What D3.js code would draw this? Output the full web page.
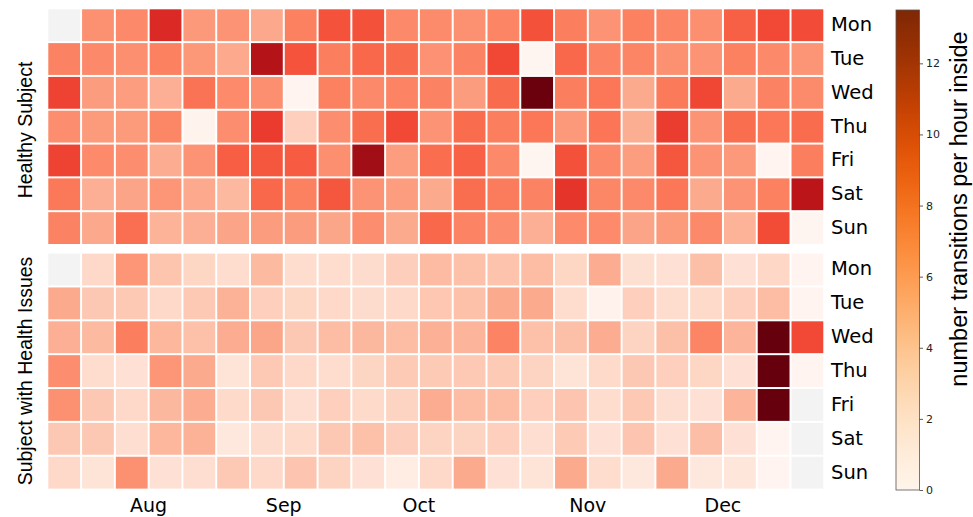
<!DOCTYPE html>
<html>
<head>
<meta charset="utf-8">
<script src="https://cdn.jsdelivr.net/npm/d3@7"></script>
<style>
  html, body { margin: 0; padding: 0; background: #fff; }
  svg { display: block; }
</style>
</head>
<body>
<script>
// ---------------- DATA ----------------
const days = ["Mon", "Tue", "Wed", "Thu", "Fri", "Sat", "Sun"];
const nWeeks = 23;
const monthLabels = ["Aug", "Sep", "Oct", "Nov", "Dec"];
const monthWeekIndex = [3, 7, 11, 16, 20];
const colorTicks = [0, 2, 4, 6, 8, 10, 12];
const colorMax = 13.5;
const subjectLabels = ["Healthy Subject", "Subject with Health Issues"];

// rows = weekday (Mon..Sun), columns = weeks; null = no data
const healthy = [
  [null, 5.1, 5.44, 9.33, 4.77, 5.02, 4.15, 5.78, 7.63, 7.67, 5.44, 5.36, 5.1, 5.61, 7.67, 5.87, 5.02, 5.78, 5.61, 5.18, 7.09, 7.96, 7.88],
  [5.7, 5.44, 5.18, 5.78, 4.86, 4.1, 11.1, 7.56, 5.87, 6.8, 6.67, 5.06, 5.74, 8.0, 0, 6.8, 5.66, 5.61, 5.1, 5.02, 5.78, 5.44, 4.94],
  [8.18, 4.64, 4.6, 3.86, 6.34, 5.4, 5.18, 0.08, 5.78, 5.44, 5.66, 5.74, 4.64, 6.67, 13.4, 5.87, 6.2, 4.06, 6.08, 8.07, 4.06, 5.7, 5.36],
  [5.22, 4.73, 4.73, 5.53, 0.16, 5.22, 8.5, 2.43, 5.27, 6.55, 7.96, 5.02, 6.63, 5.87, 6.2, 4.77, 6.25, 3.9, 8.43, 5.02, 6.55, 6.2, 6.63],
  [8.18, 5.4, 5.27, 3.94, 5.02, 7.16, 7.45, 7.23, 5.18, 11.8, 4.6, 6.59, 7.05, 5.44, 0, 7.67, 5.44, 4.6, 7.45, 5.02, 4.77, 0.08, 5.87],
  [6.12, 3.86, 4.3, 4.9, 4.1, 3.44, 6.8, 5.78, 7.45, 5.02, 4.6, 4.06, 6.55, 6.0, 5.7, 8.79, 5.53, 5.44, 6.2, 4.06, 5.02, 5.78, 10.8],
  [5.7, 4.15, 6.51, 3.69, 3.86, 4.3, 4.64, 4.64, 4.23, 5.22, 4.06, 6.8, 5.66, 5.27, 3.86, 5.4, 5.4, 4.3, 4.73, 5.44, 3.69, 7.85, 0]
];
const issues = [
  [null, 1.93, 4.9, 2.94, 2.11, 1.7, 3.4, 1.7, 1.7, 1.75, 2.48, 3.36, 3.08, 3.0, 3.27, 2.11, 3.98, 1.54, 1.46, 3.17, 1.46, 2.02, 0.08],
  [4.06, 2.76, 2.72, 1.93, 2.72, 3.73, 2.43, 2.11, 1.93, 1.75, 1.93, 2.8, 3.08, 4.06, 4.06, 1.7, 0.24, 2.43, 1.7, 1.89, 2.43, 3.27, 0.08],
  [3.86, 3.4, 5.87, 3.52, 3.08, 3.94, 4.23, 2.76, 3.27, 3.48, 3.27, 3.81, 3.6, 5.66, 3.08, 3.17, 3.98, 2.25, 3.17, 5.61, 3.6, 14, 7.96],
  [5.22, 1.7, 1.46, 4.9, 4.06, 1.3, 2.72, 1.93, 1.7, 2.16, 2.67, 2.67, 2.72, 2.67, 2.25, 1.3, 1.89, 2.76, 2.43, 2.11, 1.46, 14, 0.08],
  [5.1, 2.76, 1.93, 3.48, 3.94, 1.89, 2.76, 1.62, 2.43, 1.89, 2.25, 3.94, 3.27, 3.27, 2.43, 2.9, 1.7, 2.72, 1.62, 1.46, 3.6, 14, null],
  [2.76, 2.76, 1.62, 3.52, 3.73, 1.05, 1.75, 1.89, 2.76, 3.08, 2.48, 2.2, 2.2, 2.43, 1.62, 2.67, 1.46, 2.9, 1.46, 3.21, 1.46, 0.08, null],
  [1.93, 1.3, 5.1, 1.46, 1.62, 2.72, 1.93, 2.9, 2.25, 1.46, 0.65, 1.93, 4.06, 1.46, 1.3, 4.06, 1.7, 1.05, 4.06, 1.05, 1.13, 0.08, null]
];

// ---------------- CHART ----------------
const W = 973, H = 517;
const svg = d3.select("body").append("svg").attr("width", W).attr("height", H);

const x = d3.scaleLinear().domain([0, nWeeks]).range([47.3, 824.3]);
const cellColor = d3.scaleSequential(d3.interpolateReds).domain([0, colorMax]).clamp(true);
const nanColor = "#f3f3f3";

const panels = [
  { data: healthy, y: d3.scaleBand().domain(days).range([8.3, 245]), label: subjectLabels[0], labelY: 130 },
  { data: issues, y: d3.scaleBand().domain(days).range([252.6, 489.6]), label: subjectLabels[1], labelY: 371 }
];

const cellW = x(1) - x(0);
panels.forEach(p => {
  const g = svg.append("g");
  const cells = [];
  p.data.forEach((row, r) => row.forEach((v, c) => cells.push({ r, c, v })));
  g.selectAll("rect").data(cells).join("rect")
    .attr("x", d => x(d.c) + 1)
    .attr("y", d => p.y(days[d.r]) + 1)
    .attr("width", cellW - 2)
    .attr("height", p.y.bandwidth() - 2)
    .attr("fill", d => d.v == null ? nanColor : cellColor(d.v));

  // weekday labels on right
  g.selectAll("text.day").data(days).join("text")
    .attr("class", "day")
    .attr("x", 831)
    .attr("y", d => p.y(d) + p.y.bandwidth() / 2)
    .attr("dy", "0.3em")
    .attr("font-family", "DejaVu Sans")
    .attr("font-size", 19.5)
    .attr("fill", "#000")
    .text(d => d);

  // subject label on left
  svg.append("text")
    .attr("transform", `translate(32,${p.labelY}) rotate(-90)`)
    .attr("text-anchor", "middle")
    .attr("font-family", "Liberation Sans, Arial, sans-serif")
    .attr("font-size", 19.5)
    .attr("fill", "#000")
    .text(p.label);
});

// month labels at bottom
svg.append("g").selectAll("text").data(monthLabels).join("text")
  .attr("x", (d, i) => x(monthWeekIndex[i]))
  .attr("y", 512)
  .attr("text-anchor", "middle")
  .attr("font-family", "DejaVu Sans")
  .attr("font-size", 19)
  .attr("fill", "#000")
  .text(d => d);

// ---------------- COLORBAR ----------------
const cbX = 896, cbW = 23.5, cbTop = 10, cbBot = 490;
const cbScale = d3.scaleLinear().domain([0, colorMax]).range([cbBot, cbTop]);
const defs = svg.append("defs");
const grad = defs.append("linearGradient").attr("id", "cbgrad")
  .attr("x1", 0).attr("y1", 1).attr("x2", 0).attr("y2", 0);
d3.range(0, 1.0001, 0.02).forEach(t => {
  grad.append("stop").attr("offset", t).attr("stop-color", d3.interpolateOranges(t));
});
svg.append("rect")
  .attr("x", cbX).attr("y", cbTop).attr("width", cbW).attr("height", cbBot - cbTop)
  .attr("fill", "url(#cbgrad)")
  .attr("stroke", "#555").attr("stroke-width", 0.8);

const cbAxis = svg.append("g")
  .attr("transform", `translate(${cbX + cbW},0)`)
  .call(d3.axisRight(cbScale).tickValues(colorTicks).tickSize(3.5).tickPadding(3).tickFormat(d3.format("d")));
cbAxis.select(".domain").remove();
cbAxis.selectAll("line").attr("stroke", "#333").attr("stroke-width", 0.8);
cbAxis.selectAll("text").attr("font-family", "DejaVu Sans").attr("font-size", 11).attr("fill", "#222");

svg.append("text")
  .attr("transform", `translate(967,209) rotate(-90)`)
  .attr("text-anchor", "middle")
  .attr("font-family", "Liberation Sans, Arial, sans-serif")
  .attr("font-size", 23.5)
  .attr("fill", "#000")
  .text("number transitions per hour inside");
</script>
</body>
</html>
